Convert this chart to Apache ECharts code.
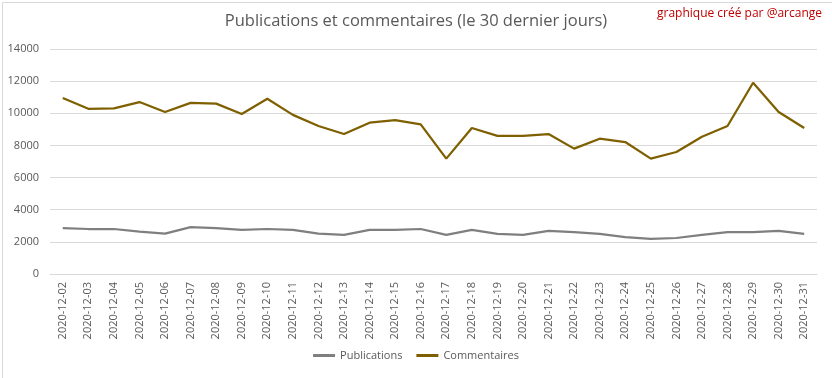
<!DOCTYPE html>
<html><head><meta charset="utf-8">
<script src="https://cdn.jsdelivr.net/npm/echarts@6/dist/echarts.min.js"></script>
<style>html,body{margin:0;padding:0;background:#fff}#c{width:832px;height:378px}</style>
</head><body><div id="c"></div>
<script>
const categories = ["2020-12-02","2020-12-03","2020-12-04","2020-12-05","2020-12-06","2020-12-07","2020-12-08","2020-12-09","2020-12-10","2020-12-11","2020-12-12","2020-12-13","2020-12-14","2020-12-15","2020-12-16","2020-12-17","2020-12-18","2020-12-19","2020-12-20","2020-12-21","2020-12-22","2020-12-23","2020-12-24","2020-12-25","2020-12-26","2020-12-27","2020-12-28","2020-12-29","2020-12-30","2020-12-31"];
const publications = [2860,2800,2800,2630,2510,2920,2860,2740,2800,2740,2510,2430,2740,2740,2800,2430,2740,2490,2430,2680,2610,2490,2300,2180,2240,2430,2610,2610,2680,2490];
const commentaires = [10950,10280,10300,10700,10080,10650,10600,9960,10900,9900,9210,8710,9415,9580,9310,7180,9085,8590,8590,8710,7800,8420,8210,7180,7590,8545,9210,11900,10080,9085];
const titleText = "Publications et commentaires (le 30 dernier jours)";
const creditText = "graphique créé par @arcange";
const FONT = "'Open Sans', sans-serif";
const chart = echarts.init(document.getElementById('c'));
chart.setOption({
  animation: false,
  backgroundColor: '#fff',
  textStyle: {fontFamily: FONT},
  title: {text: titleText, left: 'center', top: 8,
    textStyle: {fontSize: 16.5, fontWeight: 'normal', color: '#595959', fontFamily: FONT}},
  graphic: [
    {type: 'text', right: 10, top: 8, style: {text: creditText, fill: '#C00000', font: "12px 'Open Sans', sans-serif"}},
    {type: 'rect', left: 0, top: 0, shape: {x: 0.5, y: 0.5, width: 831, height: 377}, style: {fill: null, stroke: '#D9D9D9', lineWidth: 1}, silent: true}
  ],
  legend: {bottom: 12, left: 'center', itemWidth: 22, itemHeight: 3, itemGap: 14,
    icon: 'rect',
    textStyle: {fontSize: 11, color: '#595959', fontFamily: FONT},
    data: ['Publications', 'Commentaires']},
  grid: {left: 50, right: 15, top: 49, bottom: 104},
  xAxis: {type: 'category', data: categories, boundaryGap: true,
    axisLine: {lineStyle: {color: '#D9D9D9'}}, axisTick: {show: false},
    axisLabel: {rotate: 90, fontSize: 11, color: '#595959', interval: 0, margin: 8}},
  yAxis: {type: 'value', min: 0, max: 14000, interval: 2000,
    axisLine: {show: false}, axisTick: {show: false},
    splitLine: {lineStyle: {color: '#D9D9D9'}},
    axisLabel: {fontSize: 11, color: '#595959', margin: 11, formatter: v => String(v)}},
  series: [
    {name: 'Publications', type: 'line', data: publications, symbol: 'none',
      lineStyle: {color: '#7F7F7F', width: 2.25}, itemStyle: {color: '#7F7F7F'}},
    {name: 'Commentaires', type: 'line', data: commentaires, symbol: 'none',
      lineStyle: {color: '#7F6000', width: 2.25}, itemStyle: {color: '#7F6000'}}
  ]
});
</script></body></html>
